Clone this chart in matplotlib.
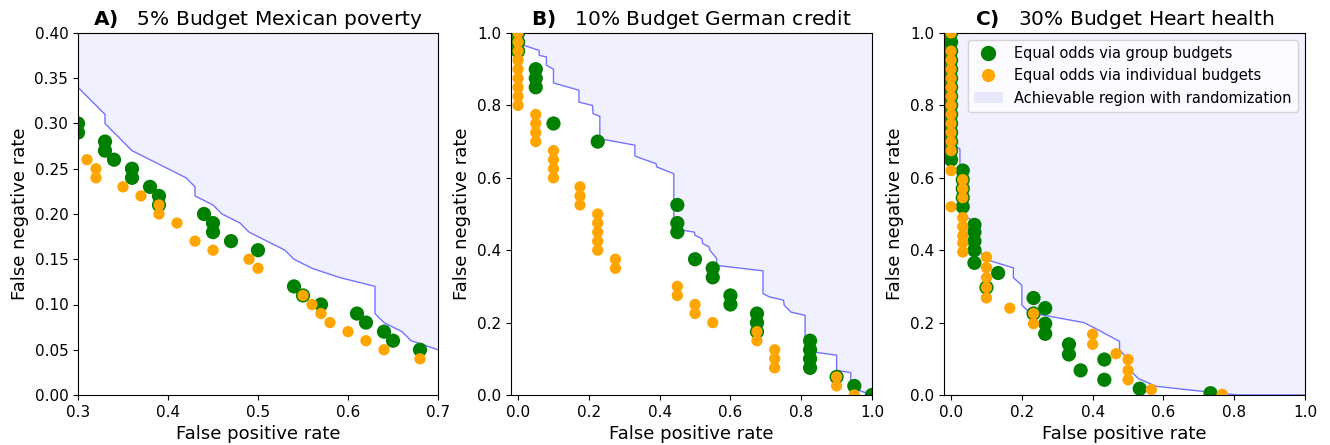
import numpy as np
import matplotlib
matplotlib.use("Agg")
import matplotlib.pyplot as plt
from matplotlib.patches import Patch
from matplotlib.lines import Line2D

# ---------------- Panel A: Mexican poverty ----------------
a_group_fpr = [0.30, 0.30, 0.33, 0.33, 0.34, 0.36, 0.36, 0.38, 0.39, 0.39, 0.44, 0.45, 0.45,
               0.47, 0.50, 0.54, 0.55, 0.57, 0.61, 0.62, 0.64, 0.65, 0.68]
a_group_fnr = [0.30, 0.29, 0.28, 0.27, 0.26, 0.25, 0.24, 0.23, 0.22, 0.21, 0.20, 0.19, 0.18,
               0.17, 0.16, 0.12, 0.11, 0.10, 0.09, 0.08, 0.07, 0.06, 0.05]
a_ind_fpr = [0.31, 0.32, 0.32, 0.35, 0.37, 0.39, 0.39, 0.41, 0.43, 0.45, 0.49, 0.50, 0.55,
             0.56, 0.57, 0.58, 0.60, 0.62, 0.64, 0.68]
a_ind_fnr = [0.26, 0.25, 0.24, 0.23, 0.22, 0.21, 0.20, 0.19, 0.17, 0.16, 0.15, 0.14, 0.11,
             0.10, 0.09, 0.08, 0.07, 0.06, 0.05, 0.04]
a_front_fpr = [0.30, 0.33, 0.33, 0.36, 0.42, 0.43, 0.43, 0.45, 0.46, 0.48, 0.49, 0.53, 0.54,
               0.56, 0.59, 0.63, 0.63, 0.64, 0.66, 0.67, 0.70]
a_front_fnr = [0.34, 0.31, 0.30, 0.27, 0.24, 0.23, 0.22, 0.21, 0.20, 0.19, 0.18, 0.16, 0.15,
               0.14, 0.13, 0.12, 0.09, 0.08, 0.07, 0.06, 0.05]

# ---------------- Panel B: German credit ----------------
b_group_fpr = [0.0, 0.0, 0.0, 0.05, 0.05, 0.05, 0.10, 0.225, 0.45, 0.45, 0.45, 0.50, 0.55,
               0.55, 0.60, 0.60, 0.675, 0.675, 0.675, 0.825, 0.825, 0.825, 0.825, 0.90,
               0.95, 1.0]
b_group_fnr = [1.0, 0.975, 0.95, 0.90, 0.875, 0.85, 0.75, 0.70, 0.525, 0.475, 0.45, 0.375,
               0.35, 0.325, 0.275, 0.25, 0.225, 0.20, 0.175, 0.15, 0.125, 0.10, 0.075, 0.05,
               0.025, 0.0]
b_ind_fpr = [0.0, 0.0, 0.0, 0.0, 0.0, 0.0, 0.0, 0.0, 0.0,
             0.05, 0.05, 0.05, 0.05, 0.10, 0.10, 0.10, 0.10, 0.175, 0.175, 0.175,
             0.225, 0.225, 0.225, 0.225, 0.225, 0.275, 0.275, 0.45, 0.45, 0.50, 0.50,
             0.55, 0.675, 0.675, 0.725, 0.725, 0.725, 0.90, 0.90, 0.95]
b_ind_fnr = [1.0, 0.975, 0.95, 0.925, 0.90, 0.875, 0.85, 0.825, 0.80,
             0.775, 0.75, 0.725, 0.70, 0.675, 0.65, 0.625, 0.60, 0.575, 0.55, 0.525,
             0.50, 0.475, 0.45, 0.425, 0.40, 0.375, 0.35, 0.30, 0.275, 0.25, 0.225,
             0.20, 0.175, 0.15, 0.125, 0.10, 0.075, 0.05, 0.025, 0.0]
b_front_fpr = [0.0, 0.0, 0.019, 0.059, 0.06, 0.08, 0.08, 0.10, 0.10, 0.172, 0.172, 0.21,
               0.212, 0.231, 0.231, 0.33, 0.33, 0.39, 0.392, 0.44, 0.44, 0.498, 0.50,
               0.519, 0.522, 0.54, 0.542, 0.561, 0.561, 0.692, 0.692, 0.71, 0.75, 0.752,
               0.771, 0.811, 0.811, 0.832, 0.832, 0.90, 0.90, 0.94, 0.94, 0.962, 1.0]
b_front_fnr = [1.0, 0.97, 0.965, 0.952, 0.938, 0.934, 0.911, 0.90, 0.862, 0.842, 0.809, 0.80,
               0.777, 0.77, 0.708, 0.69, 0.66, 0.639, 0.63, 0.611, 0.459, 0.45, 0.441,
               0.432, 0.418, 0.409, 0.40, 0.377, 0.358, 0.343, 0.28, 0.271, 0.262, 0.248,
               0.229, 0.22, 0.16, 0.142, 0.119, 0.11, 0.068, 0.062, 0.017, 0.013, 0.0]

# ---------------- Panel C: Heart health ----------------
c_group_fpr = [0.0] * 15 + [0.033] * 5 + [0.066] * 5 + [0.10, 0.133, 0.233, 0.233, 0.266,
               0.266, 0.266, 0.333, 0.333, 0.366, 0.433, 0.433, 0.533, 0.733]
c_group_fnr = [1.0, 0.975, 0.95, 0.925, 0.90, 0.875, 0.85, 0.825, 0.80, 0.775, 0.75, 0.725,
               0.70, 0.675, 0.65,
               0.62, 0.595, 0.57, 0.545, 0.52,
               0.47, 0.45, 0.425, 0.40, 0.365,
               0.297, 0.337, 0.268, 0.225, 0.24, 0.197, 0.169, 0.14, 0.112, 0.068, 0.098,
               0.042, 0.0175, 0.005]
c_ind_fpr = [0.0] * 15 + [0.033] * 8 + [0.10] * 5 + [0.166, 0.233, 0.233, 0.40, 0.40,
             0.466, 0.50, 0.50, 0.50, 0.566, 0.766]
c_ind_fnr = [1.0, 0.95, 0.925, 0.90, 0.875, 0.85, 0.825, 0.80, 0.775, 0.75, 0.725, 0.70,
             0.675, 0.62, 0.52,
             0.595, 0.57, 0.545, 0.49, 0.465, 0.44, 0.42, 0.395,
             0.381, 0.352, 0.324, 0.297, 0.268,
             0.24, 0.225, 0.197, 0.168, 0.14, 0.114, 0.098, 0.068, 0.042, 0.015, 0.002]
c_front_fpr = [0.0, 0.0, 0.025, 0.025, 0.058, 0.079, 0.10, 0.176, 0.176, 0.20, 0.20, 0.223,
               0.298, 0.375, 0.40, 0.476, 0.476, 0.50, 0.50, 0.53, 0.579, 0.786, 0.814, 1.0]
c_front_fnr = [1.0, 0.699, 0.679, 0.503, 0.483, 0.40, 0.374, 0.351, 0.324, 0.303, 0.248,
               0.227, 0.214, 0.20, 0.188, 0.148, 0.125, 0.098, 0.073, 0.045, 0.024, 0.002,
               0.0, 0.0]

titles = ["A)", "B)", "C)"]
subtitles = ["5% Budget Mexican poverty", "10% Budget German credit", "30% Budget Heart health"]

GREEN = "green"
ORANGE = "orange"
FILL = (0.94, 0.94, 1.0)
LINE = (0.45, 0.45, 1.0)

fig = plt.figure(figsize=(13.3, 4.45), dpi=100)
W, H = 1330, 445
axes = [fig.add_axes([78 / W, 50 / H, 360 / W, 362 / H]),
        fig.add_axes([511 / W, 50 / H, 361 / W, 362 / H]),
        fig.add_axes([944 / W, 50 / H, 361 / W, 362 / H])]

panels = [
    (a_group_fpr, a_group_fnr, a_ind_fpr, a_ind_fnr, a_front_fpr, a_front_fnr),
    (b_group_fpr, b_group_fnr, b_ind_fpr, b_ind_fnr, b_front_fpr, b_front_fnr),
    (c_group_fpr, c_group_fnr, c_ind_fpr, c_ind_fnr, c_front_fpr, c_front_fnr),
]

for i, (ax, p) in enumerate(zip(axes, panels)):
    gx, gy, ix, iy, fx, fy = p
    ax.fill_between(fx, fy, 1.0, color=FILL, lw=0, zorder=0)
    ax.plot(fx, fy, color=LINE, lw=1.0, zorder=1)
    ax.scatter(gx, gy, s=105, color=GREEN, edgecolors="none", zorder=2)
    ax.scatter(ix, iy, s=66, color=ORANGE, edgecolors="none", zorder=3)
    ax.set_xlabel("False positive rate", fontsize=13)
    ax.set_ylabel("False negative rate", fontsize=13)
    ax.set_title(r"$\bf{" + titles[i] + r"}$   " + subtitles[i], fontsize=14.5)
    ax.tick_params(labelsize=11)

axes[0].set_xlim(0.3, 0.7)
axes[0].set_ylim(0.0, 0.4)
axes[0].set_xticks(np.arange(0.3, 0.71, 0.1))
axes[0].set_yticks(np.arange(0.0, 0.401, 0.05))
axes[0].set_yticklabels([f"{v:.2f}" for v in np.arange(0.0, 0.401, 0.05)])
for ax in axes[1:]:
    ax.set_xlim(-0.02, 1.0)
    ax.set_ylim(0.0, 1.0)
    ax.set_xticks(np.arange(0.0, 1.01, 0.2))
    ax.set_yticks(np.arange(0.0, 1.01, 0.2))
    ax.set_xticklabels([f"{v:.1f}" for v in np.arange(0.0, 1.01, 0.2)])
    ax.set_yticklabels([f"{v:.1f}" for v in np.arange(0.0, 1.01, 0.2)])

handles = [Line2D([], [], marker="o", ls="none", color=GREEN, markersize=10),
           Line2D([], [], marker="o", ls="none", color=ORANGE, markersize=8.5),
           Patch(facecolor=(0.91, 0.91, 0.99), edgecolor="none")]
labels = ["Equal odds via group budgets", "Equal odds via individual budgets",
          "Achievable region with randomization"]
axes[2].legend(handles, labels, loc="upper right", fontsize=10.5, framealpha=0.8)

fig.savefig("out.png", dpi=100)
